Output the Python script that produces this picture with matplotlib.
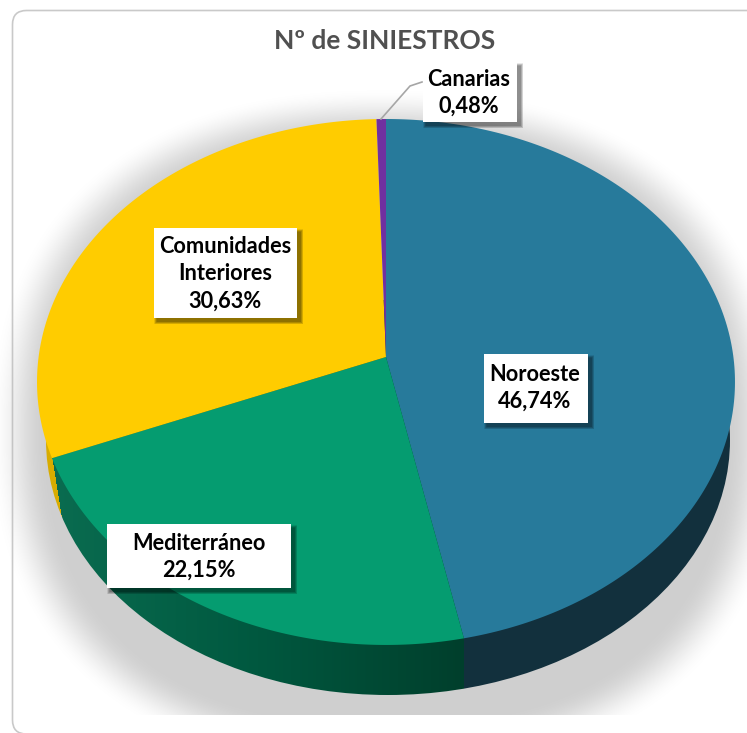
import numpy as np
import matplotlib
matplotlib.use("Agg")
import matplotlib.pyplot as plt
from matplotlib.patches import Ellipse, FancyBboxPatch, Rectangle
from matplotlib.colors import LinearSegmentedColormap, to_rgb

plt.rcParams['font.family'] = ['Lato', 'DejaVu Sans']

# datos del grafico, empezando arriba y en sentido horario
regiones = ["Noroeste", "Mediterráneo", "Comunidades\nInteriores", "Canarias"]
porcentajes = [46.74, 22.15, 30.63, 0.48]
etiquetas = ["46,74%", "22,15%", "30,63%", "0,48%"]
colores = ["#277A9B", "#059C70", "#FFCC00", "#7030A0"]
titulo = "Nº de SINIESTROS"

W, H = 747, 733
fig = plt.figure(figsize=(W / 100, H / 100), dpi=100)
ax = fig.add_axes([0, 0, 1, 1])

# tarjeta de fondo
ax.add_patch(FancyBboxPatch((12.5, 10.5), 760, 723.5, boxstyle="round,pad=0,rounding_size=14",
                            fc="white", ec="#c9c9c9", lw=1.2, zorder=0))

# sombra difusa debajo del queso
xx, yy = np.meshgrid(np.arange(W), np.arange(H))
d = ((np.abs(xx - 386) / 368) ** 2.35 + (np.abs(yy - 430) / 318) ** 2.35) ** (1 / 2.35)
d = (d - 1) * 340
sombra = np.clip(0.5 - d / 52, 0, 1)
sombra = sombra * sombra * (3 - 2 * sombra)
sombra[yy > 714] = 0
rgba = np.zeros((H, W, 4))
rgba[..., :3] = 0.72
rgba[..., 3] = sombra * 0.66
ax.imshow(rgba, extent=(0, W, H, 0), aspect="auto", zorder=1)


# perspectiva: un circulo unidad visto inclinado, el centro queda por encima del centro de la elipse
def proyectar(ang):
    x = np.sin(ang)
    y = np.cos(ang)
    den = 1 + 0.095 * y
    return 386 + 347.4 * x / den, 357 - 260.6 * y / den


limites = np.radians(np.cumsum([0] + porcentajes) * 3.6)

# lateral: elipse inferior con degradado, cortes en los bordes de cada sector
corte_verde = proyectar(limites[1])[0]
corte_amarillo, y_amarillo = proyectar(limites[2])
cm_verde = LinearSegmentedColormap.from_list("v", ["#0A6C50", "#00583F", "#003F2C"])
col_x, fila_y = np.meshgrid(np.arange(30, 740), np.arange(300, 700))
lateral = np.zeros(col_x.shape + (3,))
lateral[:] = to_rgb("#12303D")
verde = col_x < corte_verde
lateral[verde] = cm_verde((col_x[verde] - corte_amarillo) / (corte_verde - corte_amarillo))[:, :3]
amarillo = col_x < corte_amarillo + (fila_y - y_amarillo) * 0.16
lateral[amarillo] = to_rgb("#D8AC00")
im = ax.imshow(lateral, extent=(30, 740, 700, 300), aspect="auto", zorder=2)
elipse = Ellipse((388, 440), 684, 510, transform=ax.transData, fc="none", ec="none")
ax.add_patch(elipse)
im.set_clip_path(elipse)

# cara superior
for a, b, color in zip(limites[:-1], limites[1:], colores):
    t = np.linspace(a, b, 200)
    px, py = proyectar(t)
    ax.fill(np.r_[386, px], np.r_[357, py], color=color, lw=0, zorder=3)


def caja(x0, y0, x1, y1):
    # sombra de la etiqueta hecha con rectangulos casi transparentes
    for g in range(6):
        ax.add_patch(Rectangle((x0 + g * 0.5, y0 + 1 + g * 0.5), x1 - x0 + 6 - g, y1 - y0 + 5 - g,
                               fc="black", alpha=0.09, lw=0, zorder=5))
    ax.add_patch(Rectangle((x0, y0), x1 - x0, y1 - y0, fc="white", lw=0, zorder=6))


cajas = [(484, 354, 588, 423), (107, 524, 291, 588), (154, 228, 297, 318), (423, 62, 517, 122)]
alturas = [388, 557, 274, 93]
centros = [535, 199, 225, 469]
for nombre, valor, c, cx, cy in zip(regiones, etiquetas, cajas, centros, alturas):
    caja(*c)
    ax.text(cx, cy, nombre + "\n" + valor, ha="center", va="center", fontsize=15.7, fontweight="bold",
            color="black", linespacing=1.36, zorder=7)

# linea guia de Canarias
ax.plot([381, 410, 422], [119, 86, 82], color="#a6a6a6", lw=1.2, zorder=4)

ax.text(385, 41, titulo, ha="center", va="center", fontsize=19, fontweight="bold", color="#505050", zorder=7)

ax.set_xlim(0, W)
ax.set_ylim(H, 0)
ax.axis("off")
fig.savefig("out.png", dpi=100)
